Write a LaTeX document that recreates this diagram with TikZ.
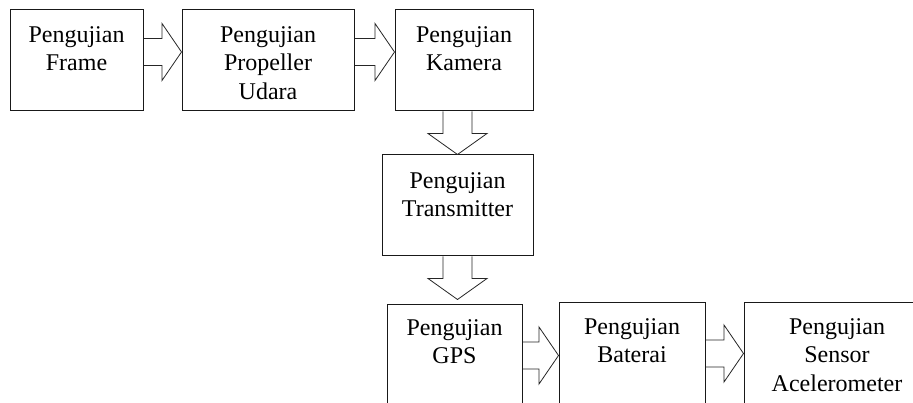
\documentclass[tikz,border=0pt]{standalone}
\usepackage{fontspec}
\setmainfont{Liberation Serif}
\usetikzlibrary{calc}

% block arrow to the right: from node, to node, shift of the arrow axis
\newcommand{\blockright}[3]{%
  \draw[blockline] let \p1=([yshift=#3]#1.east), \p2=(#2.west) in
    (\x1,{\y1+13.5pt}) -- ({\x2-19.5pt},{\y1+13.5pt}) -- ({\x2-19.5pt},{\y1+28.5pt})
    -- (\x2,\y1) -- ({\x2-19.5pt},{\y1-28.5pt}) -- ({\x2-19.5pt},{\y1-13.5pt})
    -- (\x1,{\y1-13.5pt});
}
% block arrow downwards: start point, end point, gap before the end
\newcommand{\blockdown}[3]{%
  \draw[blockline] let \p1=(#1), \p2=(#2) in
    ({\x1-14.5pt},\y1) -- ({\x1-14.5pt},{\y2+#3+21pt}) -- ({\x1-29.5pt},{\y2+#3+21pt})
    -- (\x1,{\y2+#3}) -- ({\x1+29.5pt},{\y2+#3+21pt}) -- ({\x1+14.5pt},{\y2+#3+21pt})
    -- ({\x1+14.5pt},\y1);
}

\begin{document}
\begin{tikzpicture}[x=1pt,y=-1pt,
    testbox/.style={draw=black!90, line width=1pt, inner sep=0pt, minimum height=101pt},
    boxtext/.style={align=center, anchor=north, inner sep=0pt,
      font=\fontsize{24}{28.5}\selectfont},
    blockline/.style={draw=black!85, line width=0.8pt}]
    \useasboundingbox (0,0) rectangle (913,403);
    \clip (0,0) rectangle (913,403);

    % top row
    \node[testbox, minimum width=133pt] (frame) at (76.5,60.5) {};
    \node[testbox, minimum width=172pt] (prop) at (268,60.5) {};
    \node[testbox, minimum width=138pt] (cam) at (464,60.5) {};
    \node[boxtext] (frame-t) at ([yshift=-16.5pt]frame.north) {Pengujian\\Frame};
    \node[boxtext] (prop-t) at ([yshift=-16.5pt]prop.north) {Pengujian\\Propeller\\Udara};
    \node[boxtext] (cam-t) at ([yshift=-16.5pt]cam.north) {Pengujian\\Kamera};

    % middle
    \node[testbox, minimum width=151pt] (trans) at (457.5,205.5) {};
    \node[boxtext] (trans-t) at ([yshift=-17.5pt]trans.north) {Pengujian\\Transmitter};

    % bottom row
    \node[testbox, minimum width=135pt] (gps) at (454.5,355.5) {};
    \node[testbox, minimum width=146pt] (bat) at (632,353.5) {};
    \node[testbox, minimum width=186pt] (acc) at (837,353.5) {};
    \node[boxtext] (gps-t) at ([yshift=-14.5pt]gps.north) {Pengujian\\GPS};
    \node[boxtext] (bat-t) at ([yshift=-15.5pt]bat.north) {Pengujian\\Baterai};
    \node[boxtext] (acc-t) at ([yshift=-15.5pt]acc.north) {Pengujian\\Sensor\\Acelerometer};

    % arrows
    \blockright{frame}{prop}{8.5pt}
    \blockright{prop}{cam}{8.5pt}
    \blockdown{cam.south -| trans.north}{trans.north}{0pt}
    \blockdown{trans.south}{gps.north -| trans.south}{5pt}
    \blockright{gps}{bat}{0pt}
    \blockright{bat}{acc}{0pt}
\end{tikzpicture}
\end{document}
